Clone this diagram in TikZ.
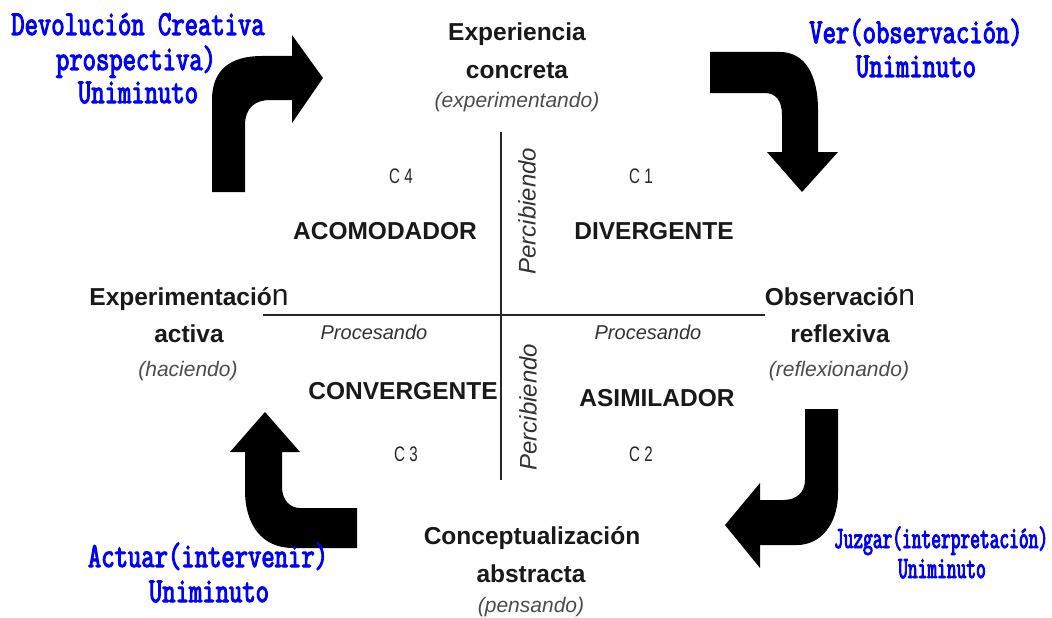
\documentclass[tikz,border=0pt]{standalone}
\usepackage{fontspec}
\setmainfont{Liberation Sans}
\newfontfamily\bluefont[FakeStretch=0.74,FakeBold=3]{Latin Modern Mono}
\newfontfamily\bluefontn[FakeStretch=0.61,FakeBold=3]{Latin Modern Mono}
\newfontfamily\narrowfont[FakeStretch=0.72]{Liberation Sans}
\tikzset{
  ttl/.style={font=\fontsize{24.5}{28}\selectfont\bfseries, text=black!90, inner sep=0pt, anchor=base},
  sub/.style={font=\fontsize{21}{24}\selectfont\itshape, text=black!70, inner sep=0pt, anchor=base},
  clabel/.style={font=\narrowfont\fontsize{21}{24}\selectfont, text=black!85, inner sep=0pt, anchor=base},
  proc/.style={font=\fontsize{20}{24}\selectfont\itshape, text=black!80, inner sep=0pt, anchor=base},
  perc/.style={font=\fontsize{24}{28}\selectfont\itshape, text=black!80, inner sep=0pt, anchor=center, rotate=90},
  bluetxt/.style={font=\bluefont\fontsize{35}{35}\selectfont, text=blue, inner sep=0pt, anchor=base},
  bluetxtn/.style={font=\bluefontn\fontsize{31}{32}\selectfont, text=blue, inner sep=0pt, anchor=base},
  axis/.style={draw=black!85, line width=2.2pt},
  bentarrow/.style={fill=black}
}
\begin{document}
\begin{tikzpicture}[x=1pt,y=-1pt]
\useasboundingbox[fill=white] (0,0) rectangle (1052,618);
% axes
\coordinate (vt) at (501,132);
\coordinate (vb) at (501,480);
\coordinate (hl) at (263,315);
\coordinate (hr) at (765,315);
\draw[axis] (vt) -- (vb);
\draw[axis] (hl) -- (hr);
% bent arrows
\fill[bentarrow] (212,192) -- (212,100) .. controls (212,70) and (230,56) .. (262,56) -- (292,56) -- (292,35) -- (323,78) -- (292,123) -- (292,100) -- (270,100) .. controls (255,100) and (245,108) .. (245,125) -- (245,192) -- cycle;
\fill[bentarrow] (710,52) -- (780,52) .. controls (805,52) and (818,75) .. (818,110) -- (818,152) -- (838,152) -- (802,192) -- (767,152) -- (782,152) -- (782,115) .. controls (782,100) and (775,93) .. (765,93) -- (710,93) -- cycle;
\fill[bentarrow] (805,409) -- (838,409) -- (838,493) .. controls (838,525) and (820,545) .. (797,545) -- (760,545) -- (760,568) -- (725,525) -- (760,483) -- (760,500) -- (783,500) .. controls (797,500) and (805,492) .. (805,480) -- cycle;
\fill[bentarrow] (357,548) -- (293,548) .. controls (262,548) and (245,525) .. (245,490) -- (245,452) -- (230,452) -- (265,412) -- (300,452) -- (282,452) -- (282,487) .. controls (282,500) and (290,508) .. (300,508) -- (357,508) -- cycle;
% top
\node[ttl] (exp1) at (517,41) {Experiencia};
\node[ttl] (exp2) at (517,78) {concreta};
\node[sub] (exp3) at (517,107) {(experimentando)};
% quadrant labels
\node[clabel] (c4) at (401,183) {C 4};
\node[clabel] (c1) at (641,183) {C 1};
\node[clabel] (c3) at (406,461) {C 3};
\node[clabel] (c2) at (641,461) {C 2};
\node[ttl] (acom) at (385,239) {ACOMODADOR};
\node[ttl] (div) at (654,239) {DIVERGENTE};
\node[ttl] (conv) at (403,399) {CONVERGENTE};
\node[ttl] (asim) at (657,406) {ASIMILADOR};
\node[proc] (procl) at (374,339) {Procesando};
\node[proc] (procr) at (648,339) {Procesando};
\node[perc] (percu) at (527,211) {Percibiendo};
\node[perc] (percd) at (528,407) {Percibiendo};
% left
\node[ttl] (act1) at (189,305) {Experimentació{\fontsize{30}{30}\selectfont\mdseries n}};
\node[ttl] (act2) at (189,342) {activa};
\node[sub] (act3) at (188,376) {(haciendo)};
% right
\node[ttl] (obs1) at (840,305) {Observació{\fontsize{30}{30}\selectfont\mdseries n}};
\node[ttl] (obs2) at (840,342) {reflexiva};
\node[sub] (obs3) at (839,376) {(reflexionando)};
% bottom
\node[ttl] (con1) at (532,544) {Conceptualización};
\node[ttl] (con2) at (531,582) {abstracta};
\node[sub] (con3) at (531,612) {(pensando)};
% blue labels
\node[bluetxt] (dev1) at (138,35) {Devolución Creativa};
\node[bluetxt] (dev2) at (136,70) {prospectiva)};
\node[bluetxt] (dev3) at (138,103) {Uniminuto};
\node[bluetxt] (ver1) at (916,43) {Ver(observación)};
\node[bluetxt] (ver2) at (916,77) {Uniminuto};
\node[bluetxtn] (juz1) at (941,548) {Juzgar(interpretación)};
\node[bluetxtn] (juz2) at (942,578) {Uniminuto};
\node[bluetxt] (actu1) at (208,567) {Actuar(intervenir)};
\node[bluetxt] (actu2) at (209,602) {Uniminuto};
\end{tikzpicture}
\end{document}
